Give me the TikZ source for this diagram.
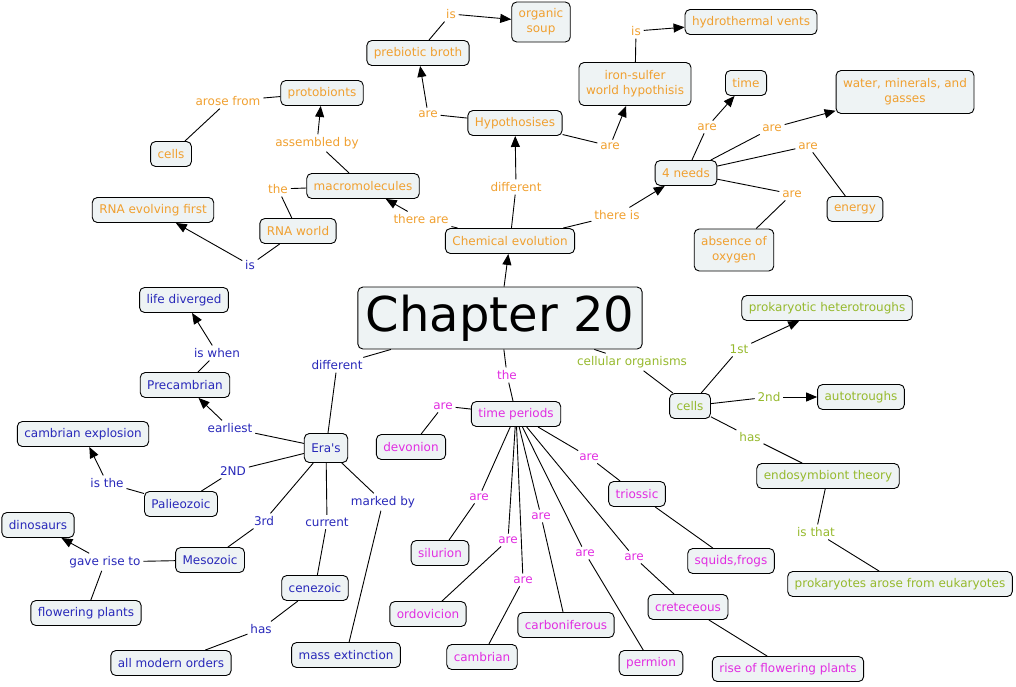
\documentclass[tikz,border=0pt]{standalone}
\usepackage{fontspec}
\setmainfont{DejaVu Sans}
\usetikzlibrary{arrows.meta}
\definecolor{chemorange}{RGB}{240,160,48}
\definecolor{erablue}{RGB}{40,40,185}
\definecolor{periodpink}{RGB}{225,45,225}
\definecolor{cellgreen}{RGB}{150,185,45}
\definecolor{boxfill}{RGB}{238,243,244}
\begin{document}
\begin{tikzpicture}[
	x=1pt, y=-1pt,
	concept/.style={ draw, rounded corners=5pt, fill=boxfill, line width=0.9pt, inner xsep=7pt, inner ysep=4pt, minimum height=25pt, align=center, font=\fontsize{12}{15}\selectfont },
	link/.style={ inner sep=2.5pt, font=\fontsize{12}{15}\selectfont },
	arr/.style={ -{Triangle[length=11pt,width=9pt]} },
	every path/.style={ line width=0.9pt }
]
\useasboundingbox (0,0) rectangle (1016,686);

\node at (500,318) (chap) [concept,minimum height=62pt,inner xsep=8pt,font=\fontsize{48}{50}\selectfont] {Chapter 20};

\node at (510,241) (chem) [concept,text=chemorange] {Chemical evolution};
\draw[arr] (chap) -- (chem);
\node at (515,123) (hyp) [concept,text=chemorange] {Hypothosises};
\node at (516,187) (ldif) [link,text=chemorange] {different};
\draw (chem) -- (ldif);
\draw[arr] (ldif) -- (hyp);
\node at (418,53) (broth) [concept,text=chemorange] {prebiotic broth};
\node at (428,114) (lare1) [link,text=chemorange] {are};
\draw (hyp) -- (lare1);
\draw[arr] (lare1) -- (broth);
\node at (541,22) (soup) [concept,text=chemorange,minimum height=40pt] {organic\\soup};
\node at (451,14) (lis1) [link,text=chemorange] {is};
\draw (broth) -- (lis1);
\draw[arr] (lis1) -- (soup);
\node at (635,84) (iron) [concept,text=chemorange,minimum height=43pt] {iron-sulfer\\world hypothisis};
\node at (610,146) (lare2) [link,text=chemorange] {are};
\draw (hyp) -- (lare2);
\draw[arr] (lare2) -- (iron);
\node at (751,22) (vents) [concept,text=chemorange] {hydrothermal vents};
\node at (636,31) (lis2) [link,text=chemorange] {is};
\draw (iron) -- (lis2);
\draw[arr] (lis2) -- (vents);
\node at (363,186) (macro) [concept,text=chemorange] {macromolecules};
\node at (421,219) (lthere) [link,text=chemorange] {there are};
\draw (chem) -- (lthere);
\draw[arr] (lthere) -- (macro);
\node at (322,93) (proto) [concept,text=chemorange] {protobionts};
\node at (317,143) (lasm) [link,text=chemorange] {assembled by};
\draw (macro) -- (lasm);
\draw[arr] (lasm) -- (proto);
\node at (171,154) (ocells) [concept,text=chemorange] {cells};
\node at (228,101) (larose) [link,text=chemorange] {arose from};
\draw (ocells) -- (larose);
\draw (larose) -- (proto);
\node at (298,231) (rnaw) [concept,text=chemorange] {RNA world};
\node at (278,189) (lthe1) [link,text=chemorange] {the};
\draw (rnaw) -- (lthe1);
\draw (lthe1) -- (macro);
\node at (153,210) (rnaf) [concept,text=chemorange] {RNA evolving first};
\node at (250,265) (lis3) [link,text=erablue] {is};
\draw (rnaw) -- (lis3);
\draw[arr] (lis3) -- (rnaf);
\node at (686,173) (needs) [concept,text=chemorange] {4 needs};
\node at (617,215) (lthis) [link,text=chemorange] {there is};
\draw (chem) -- (lthis);
\draw[arr] (lthis) -- (needs);
\node at (746,83) (time) [concept,text=chemorange] {time};
\node at (707,127) (lare3) [link,text=chemorange] {are};
\draw (needs) -- (lare3);
\draw[arr] (lare3) -- (time);
\node at (905,92) (water) [concept,text=chemorange,minimum height=43pt] {water, minerals, and\\gasses};
\node at (772,128) (lare4) [link,text=chemorange] {are};
\draw (needs) -- (lare4);
\draw[arr] (lare4) -- (water);
\node at (855,209) (energy) [concept,text=chemorange] {energy};
\node at (808,146) (lare5) [link,text=chemorange] {are};
\draw (needs) -- (lare5);
\draw (lare5) -- (energy);
\node at (734,250) (oxy) [concept,text=chemorange,minimum height=42pt] {absence of\\oxygen};
\node at (792,194) (lare6) [link,text=chemorange] {are};
\draw (needs) -- (lare6);
\draw (lare6) -- (oxy);

\node at (326,448) (eras) [concept,text=erablue,minimum height=29pt] {Era\textquotesingle s};
\node at (337,365) (ldif2) [link,text=erablue] {different};
\draw (chap) -- (ldif2);
\draw (ldif2) -- (eras);
\node at (185,385) (precam) [concept,text=erablue] {Precambrian};
\node at (230,428) (learl) [link,text=erablue] {earliest};
\draw (eras) -- (learl);
\draw[arr] (learl) -- (precam);
\node at (184,300) (diverg) [concept,text=erablue] {life diverged};
\node at (217,353) (lwhen) [link,text=erablue] {is when};
\draw (precam) -- (lwhen);
\draw[arr] (lwhen) -- (diverg);
\node at (181,504) (paleo) [concept,text=erablue] {Palieozoic};
\node at (233,471) (l2nd) [link,text=erablue] {2ND};
\draw (eras) -- (l2nd);
\draw (l2nd) -- (paleo);
\node at (83,434) (explo) [concept,text=erablue] {cambrian explosion};
\node at (107,483) (listhe) [link,text=erablue] {is the};
\draw (paleo) -- (listhe);
\draw[arr] (listhe) -- (explo);
\node at (210,560) (meso) [concept,text=erablue] {Mesozoic};
\node at (264,521) (l3rd) [link,text=erablue] {3rd};
\draw (eras) -- (l3rd);
\draw (l3rd) -- (meso);
\node at (38,525) (dino) [concept,text=erablue] {dinosaurs};
\node at (86,613) (flower) [concept,text=erablue] {flowering plants};
\node at (105,562) (lgave) [link,text=erablue] {gave rise to};
\draw (meso) -- (lgave);
\draw[arr] (lgave) -- (dino);
\draw (lgave) -- (flower);
\node at (315,588) (ceno) [concept,text=erablue] {cenezoic};
\node at (327,522) (lcurr) [link,text=erablue] {current};
\draw (eras) -- (lcurr);
\draw (lcurr) -- (ceno);
\node at (171,663) (orders) [concept,text=erablue] {all modern orders};
\node at (261,629) (lhas1) [link,text=erablue] {has};
\draw (ceno) -- (lhas1);
\draw (lhas1) -- (orders);
\node at (346,655) (mass) [concept,text=erablue] {mass extinction};
\node at (383,502) (lmark) [link,text=erablue] {marked by};
\draw (eras) -- (lmark);
\draw (lmark) -- (mass);

\node at (516,414) (tper) [concept,text=periodpink] {time periods};
\node at (507,375) (lthe2) [link,text=periodpink] {the};
\draw (chap) -- (lthe2);
\draw (lthe2) -- (tper);
\node at (411,447) (devon) [concept,text=periodpink] {devonion};
\node at (443,406) (lp1) [link,text=periodpink] {are};
\draw (tper) -- (lp1);
\draw (lp1) -- (devon);
\node at (440,553) (silur) [concept,text=periodpink] {silurion};
\node at (479,497) (lp2) [link,text=periodpink] {are};
\draw (tper) -- (lp2);
\draw (lp2) -- (silur);
\node at (428,614) (ordov) [concept,text=periodpink] {ordovicion};
\node at (508,540) (lp3) [link,text=periodpink] {are};
\draw (tper) -- (lp3);
\draw (lp3) -- (ordov);
\node at (482,657) (cambr) [concept,text=periodpink] {cambrian};
\node at (523,580) (lp4) [link,text=periodpink] {are};
\draw (tper) -- (lp4);
\draw (lp4) -- (cambr);
\node at (566,625) (carbon) [concept,text=periodpink] {carboniferous};
\node at (541,516) (lp5) [link,text=periodpink] {are};
\draw (tper) -- (lp5);
\draw (lp5) -- (carbon);
\node at (651,663) (perm) [concept,text=periodpink] {permion};
\node at (585,553) (lp6) [link,text=periodpink] {are};
\draw (tper) -- (lp6);
\draw (lp6) -- (perm);
\node at (688,607) (cret) [concept,text=periodpink] {creteceous};
\node at (634,557) (lp7) [link,text=periodpink] {are};
\draw (tper) -- (lp7);
\draw (lp7) -- (cret);
\node at (637,494) (trias) [concept,text=periodpink] {triossic};
\node at (589,457) (lp8) [link,text=periodpink] {are};
\draw (tper) -- (lp8);
\draw (lp8) -- (trias);
\node at (731,561) (squid) [concept,text=periodpink] {squids,frogs};
\draw (trias) -- (squid);
\node at (788,669) (rise) [concept,text=periodpink] {rise of flowering plants};
\draw (cret) -- (rise);

\node at (690,406) (gcells) [concept,text=cellgreen] {cells};
\node at (632,362) (lcell) [link,text=cellgreen] {cellular organisms};
\draw (chap) -- (lcell);
\draw (lcell) -- (gcells);
\node at (827,308) (hetero) [concept,text=cellgreen] {prokaryotic heterotroughs};
\node at (739,349) (l1st) [link,text=cellgreen] {1st};
\draw (gcells) -- (l1st);
\draw[arr] (l1st) -- (hetero);
\node at (861,397) (auto) [concept,text=cellgreen] {autotroughs};
\node at (769,397) (l2nd2) [link,text=cellgreen] {2nd};
\draw (gcells) -- (l2nd2);
\draw[arr] (l2nd2) -- (auto);
\node at (828,476) (endo) [concept,text=cellgreen] {endosymbiont theory};
\node at (750,437) (lhas2) [link,text=cellgreen] {has};
\draw (gcells) -- (lhas2);
\draw (lhas2) -- (endo);
\node at (900,584) (prok) [concept,text=cellgreen] {prokaryotes arose from eukaryotes};
\node at (816,532) (lthat) [link,text=cellgreen] {is that};
\draw (endo) -- (lthat);
\draw (lthat) -- (prok);

\end{tikzpicture}
\end{document}
